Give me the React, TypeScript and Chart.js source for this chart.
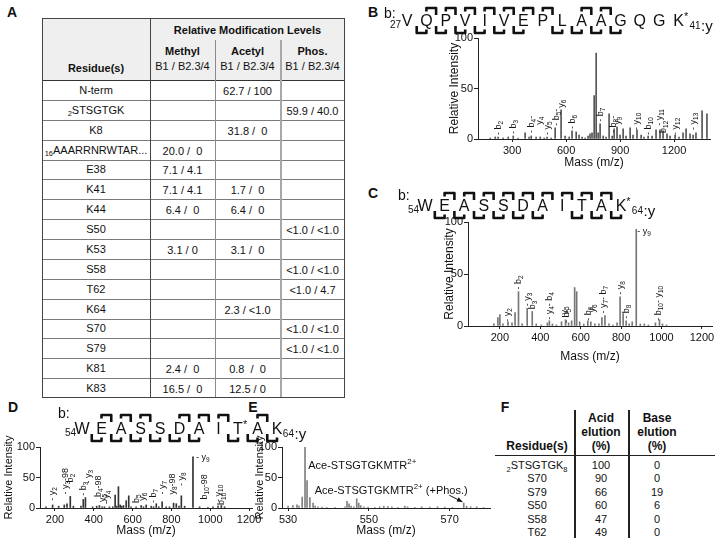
import React, { useEffect, useRef } from "react";
import { Chart, registerables } from "chart.js";

Chart.register(...registerables);

const FONT = "'Liberation Sans', Arial, Helvetica, sans-serif";

// ---------------- Panel A table ----------------
const residuesA = ["N-term", "_{2}STSGTGK", "K8", "_{16}AAARRNRWTAR...", "E38", "K41", "K44", "S50", "K53", "S58", "T62", "K64", "S70", "S79", "K81", "K83"];
const methylA = ["", "", "", "20.0 /  0", "7.1 / 4.1", "7.1 / 4.1", "6.4 /  0", "", "3.1 / 0", "", "", "", "", "", "2.4 /  0", "16.5 /  0"];
const acetylA = ["62.7 / 100", "", "31.8 /  0", "", "", "1.7 /  0", "6.4 /  0", "", "3.1 /  0", "", "", "2.3 / <1.0", "", "", "0.8  /  0", "12.5 / 0"];
const phosA = ["", "59.9 / 40.0", "", "", "", "", "", "<1.0 / <1.0", "", "<1.0 / <1.0", "<1.0 / 4.7", "", "<1.0 / <1.0", "<1.0 / <1.0", "", ""];
const modTypesA = ["Methyl", "Acetyl", "Phos."];
const batchLabelA = "B1 / B2.3/4";

// ---------------- Panel F table ----------------
const residuesF = ["_{2}STSGTGK_{8}", "S70", "S79", "S50", "S58", "T62"];
const acidF = [100, 90, 66, 60, 47, 49];
const baseF = [0, 0, 19, 6, 0, 0];

// ---------------- shared axis ticks ----------------
const yTicks = [0, 50, 100];

// ---------------- Panel B spectrum ----------------
const ticksB = [300, 600, 900, 1200];
const mzB = [178,206,222,250,278,306,333,372,394,406,433,456,478,494,517,539,572,594,617,633,656,672,689,706,722,733,744,756,767,778,789,806,822,839,856,867,883,900,917,933,956,972,994,1017,1033,1056,1078,1100,1122,1139,1161,1178,1206,1228,1250,1267,1289,1306,1322,1356,1383];
const intB = [1,2,2,1,2,3,1,6,2,3,2,2,1,2,1,11,29,3,2,8,7,4,2,1,3,5,6,43,85,6,15,3,2,25,3,10,12,4,10,3,11,4,9,4,2,3,3,9,9,8,5,3,4,2,6,10,5,4,6,28,25];
const labMzB = [222, 306, 405, 452, 494, 545, 572, 633, 789, 862, 885, 994, 1056, 1122, 1139, 1206, 1306];
const labAtB = [4, 5, 6, 14, 4, 13, 31, 10, 17, 6, 14, 9, 4, 13, 6, 4, 9];
const labTxtB = ["- b_{2}", "- b_{3}", "- b_{4}-", "y_{4}", "- y_{5}", "- b_{5}-", "y_{6}", "- b_{6}", "- b_{7}", "- b_{8}-", "y_{9}", "- y_{10}", "- b_{10}", "- y_{11}", "b_{12}", "- y_{12}", "- y_{13}"];
const seqB = ["V", "Q", "P", "V", "I", "V", "E", "P", "L", "A", "A", "G", "Q", "G", "K*"];
const seqStartB = "27";
const seqEndB = "41";
const bIonsB = [2, 3, 4, 5, 6, 7, 8, 10, 11];
const yIonsB = [1, 2, 3, 4, 5, 6, 8, 9, 10, 11];

// ---------------- Panel C spectrum ----------------
const ticksC = [200, 400, 600, 800, 1000, 1200];
const mzC = [170,190,200,215,240,260,275,292,310,335,360,380,405,435,445,460,480,505,525,540,555,570,580,595,615,635,650,670,690,705,720,740,760,780,795,810,825,840,855,875,895,915,935,970,990,1005,1025];
const intC = [2,8,11,2,4,3,13,33,2,17,14,2,1,3,5,2,1,4,6,3,5,37,33,4,2,5,4,2,2,8,10,2,1,3,28,12,5,2,4,93,2,2,1,3,6,2,1];
const labMzC = [240, 292, 335, 362, 445, 520, 532, 640, 656, 712, 797, 828, 985];
const labAtC = [4, 35, 19, 16, 6, 11, 3, 5, 13, 12, 30, 7, 5];
const labTxtC = ["- y_{2}", "- b_{2}", "- y_{3}", "b_{3}", "- y_{4}- b_{4}", "y_{5}", "- b_{5}", "- b_{6}", "y_{6}", "- y_{7}- b_{7}", "- y_{8}", "- b_{8}", "- b_{10}- y_{10}"];
const topLabC = { mz: 880, at: 91, text: "- y_{9}" };
const seqC = ["W", "E", "A", "S", "S", "D", "A", "I", "T", "A", "K*"];
const seqStartC = "54";
const seqEndC = "64";
const bIonsC = [2, 3, 4, 5, 6, 7, 8, 9, 10];
const yIonsC = [1, 2, 3, 4, 5, 6, 8, 9, 10];

// ---------------- Panel D spectrum ----------------
const ticksD = [200, 400, 600, 800, 1000, 1200];
const mzD = [154,188,219,248,262,279,295,334,346,357,394,415,429,443,455,481,498,510,518,527,536,544,553,567,580,592,618,644,656,670,696,708,722,735,752,773,790,811,825,839,851,868,911,945,988,1014,1040,1057,1074];
const intD = [2,5,3,5,7,19,3,3,14,17,2,3,4,2,2,2,2,21,3,35,5,3,4,12,20,2,2,4,2,5,3,2,7,2,10,2,2,8,7,3,20,3,84,2,1,2,3,4,2];
const labMzD = [188, 255, 281, 346, 372, 425, 443, 465, 618, 650, 706, 752, 808, 851, 971, 1040, 1060];
const labAtD = [12, 22, 42, 20, 40, 18, 10, 6, 8, 12, 8, 22, 22, 36, 14, 10, 5];
const labTxtD = ["- y_{2}", "- y_{3}-98", "b_{2}", "- b_{3}", "- y_{3}", "b_{4}-98", "y_{5}", "- y_{4}", "b_{5}", "y_{6}", "- b_{7}", "- y_{7}", "y_{8}-98", "- y_{8}", "b_{10}-98", "- y_{10}", "b_{10}"];
const topLabD = { mz: 926, at: 82, text: "- y_{9}" };
const seqD = ["W", "E", "A", "S", "S", "D", "A", "I", "T*", "A", "K"];
const seqStartD = "54";
const seqEndD = "64";
const bIonsD = [2, 3, 4, 6, 7, 8, 10];
const yIonsD = [1, 2, 3, 4, 5, 6, 8, 9, 10];

// ---------------- Panel E spectrum ----------------
const ticksE = [530, 550, 570];
const mzE = [530.0,531.2,532.2,532.7,533.5,534.2,534.7,535.4,536.2,536.7,537.4,538.4,539.6,541.6,544.1,544.6,545.1,545.6,546.3,547.0,547.5,548.0,548.8,549.8,551.5,552.7,553.7,554.7,555.7,557.2,558.9,559.6,561.4,563.1,565.1,567.0,568.8,570.7,573.5,574.2,575.2,576.7,578.4];
const intE = [3,4,5,3,18,100,45,17,8,3,2,1.5,1,1,2,11,7,3,2,15,8,4,2,1.5,1,2,3,2.5,2,1,3,2,1,2,1.5,2,1.5,1,8,3,2,2,1];
const precursorE = { mz: 535.0, at: 69, text: "Ace-STSGTGKMTR^{2+}" };
const phosLabelE = { mz: 536.6, at: 28, text: "Ace-STSGTGKMTR^{2+} (+Phos.)" };
const phosPeakE = { mz: 573.5, at: 8 };

// ---------------- helpers ----------------
type Seg = { t: string; k: number };
function segs(text: string): Seg[] {
  return text
    .split(/(_\{[^}]*\}|\^\{[^}]*\})/)
    .filter((s) => s.length > 0)
    .map((s) => {
      if (s.startsWith("_{")) return { t: s.slice(2, -1), k: 1 };
      if (s.startsWith("^{")) return { t: s.slice(2, -1), k: 2 };
      return { t: s, k: 0 };
    });
}

function Rich({ t }: { t: string }) {
  return (
    <>
      {segs(t).map((s, i) =>
        s.k === 0 ? (
          <span key={i}>{s.t}</span>
        ) : (
          <span key={i} style={{ fontSize: "0.68em", position: "relative", top: s.k === 1 ? "0.35em" : "-0.45em" }}>{s.t}</span>
        )
      )}
    </>
  );
}

function T({ x, y, s, size = 11, bold = false, align = "center" }: { x: number; y: number; s: string; size?: number; bold?: boolean; align?: string }) {
  const tr = align === "center" ? "translate(-50%,-50%)" : align === "left" ? "translate(0,-50%)" : "translate(-100%,-50%)";
  return (
    <div style={{ position: "absolute", left: x, top: y, transform: tr, fontSize: size, fontWeight: bold ? 700 : 400, whiteSpace: "pre", lineHeight: 1 }}>
      <Rich t={s} />
    </div>
  );
}

function L({ x, y, w, h, c }: { x: number; y: number; w: number; h: number; c: string }) {
  return <div style={{ position: "absolute", left: x, top: y, width: w, height: h, background: c }} />;
}

function drawRich(ctx: CanvasRenderingContext2D, text: string, x: number, y: number, size: number, rot: boolean) {
  ctx.save();
  ctx.translate(x, y);
  if (rot) ctx.rotate(-Math.PI / 2);
  ctx.textBaseline = "middle";
  ctx.textAlign = "left";
  let cx = 0;
  for (const s of segs(text)) {
    const fs = s.k ? size * 0.72 : size;
    ctx.font = `${fs}px ${FONT}`;
    const dy = s.k === 1 ? size * 0.3 : s.k === 2 ? -size * 0.38 : 0;
    ctx.fillText(s.t, cx, dy);
    cx += ctx.measureText(s.t).width;
  }
  ctx.restore();
}

type Seq = {
  letters: string[]; start: string; end: string; top: number[]; bot: number[];
  bx: number; by: number; x0: number; step: number; base: number; topY: number; botY: number; tail: number; size: number;
};

function drawSeq(ctx: CanvasRenderingContext2D, s: Seq, ox: number, oy: number) {
  ctx.save();
  ctx.fillStyle = "#111";
  ctx.textBaseline = "alphabetic";
  ctx.font = `14px ${FONT}`;
  ctx.textAlign = "left";
  ctx.fillText("b:", s.bx - ox, s.by - oy);
  const base = s.base - oy;
  ctx.font = `10px ${FONT}`;
  ctx.textAlign = "right";
  ctx.fillText(s.start, s.x0 - 6 - ox, base + 2);
  let endX = 0;
  s.letters.forEach((Lt, i) => {
    const cx = s.x0 + i * s.step - ox;
    const ch = Lt.replace("*", "");
    ctx.font = `${s.size}px ${FONT}`;
    ctx.textAlign = "center";
    ctx.fillText(ch, cx, base);
    const w = ctx.measureText(ch).width;
    endX = cx + w / 2;
    if (Lt.includes("*")) {
      ctx.font = `11px ${FONT}`;
      ctx.textAlign = "left";
      ctx.fillText("*", cx + w / 2, base - 6);
      endX = cx + w / 2 + 5;
    }
  });
  ctx.font = `10px ${FONT}`;
  ctx.textAlign = "left";
  ctx.fillText(s.end, endX + 0.5, base + 3);
  const ew = ctx.measureText(s.end).width;
  ctx.font = `${s.size - 1}px ${FONT}`;
  ctx.fillText(":y", endX + ew + 1, base + 5);
  ctx.strokeStyle = "#111";
  ctx.lineWidth = 2.6;
  ctx.lineJoin = "round";
  const half = s.step * 0.5;
  s.top.forEach((k) => {
    const xg = s.x0 + (k - 0.5) * s.step - ox;
    const y = s.topY - oy;
    ctx.beginPath();
    ctx.moveTo(xg - half, y + 3.5);
    ctx.lineTo(xg - half, y);
    ctx.lineTo(xg, y);
    ctx.lineTo(xg, y + s.tail);
    ctx.stroke();
  });
  s.bot.forEach((k) => {
    const xg = s.x0 + (k - 0.5) * s.step - ox;
    const y = s.botY - oy;
    ctx.beginPath();
    ctx.moveTo(xg, y - s.tail);
    ctx.lineTo(xg, y);
    ctx.lineTo(xg + half, y);
    ctx.lineTo(xg + half, y - 3.5);
    ctx.stroke();
  });
  ctx.restore();
}

type Lab = { mz: number; at: number; text: string; rot: boolean; size: number };
function makeLabs(mz: number[], at: number[], txt: string[], size: number): Lab[] {
  return mz.map((m, i) => ({ mz: m, at: at[i], text: txt[i], rot: true, size }));
}

type SpecProps = {
  rect: number[];
  plot: number[];
  titleX: number;
  titleY: number;
  titleSize: number;
  mz: number[];
  ints: number[];
  xMin: number;
  xMax: number;
  xTicks: number[];
  color: string;
  labels: Lab[];
  seq?: Seq;
  extra?: (ctx: CanvasRenderingContext2D, xs: any, ys: any) => void;
};

function Spectrum(p: SpecProps) {
  const ref = useRef<HTMLCanvasElement>(null);
  const [cl, ct, cr, cb] = p.rect;
  const [pl, pt, pr, pb] = p.plot;
  useEffect(() => {
    const lh = p.titleSize * 1.2;
    const plugin = {
      id: "annot",
      afterDatasetsDraw(chart: any) {
        const ctx: CanvasRenderingContext2D = chart.ctx;
        const xs = chart.scales.x;
        const ys = chart.scales.y;
        ctx.save();
        ctx.fillStyle = "#111";
        p.labels.forEach((l) => {
          drawRich(ctx, l.text, xs.getPixelForValue(l.mz), ys.getPixelForValue(l.at), l.size, l.rot);
        });
        if (p.seq) drawSeq(ctx, p.seq, cl, ct);
        if (p.extra) p.extra(ctx, xs, ys);
        ctx.restore();
      },
    };
    const chart = new Chart(ref.current as HTMLCanvasElement, {
      type: "bar",
      data: {
        datasets: [
          {
            data: p.mz.map((x, i) => ({ x, y: p.ints[i] })) as any,
            backgroundColor: p.color,
            borderWidth: 0,
            barThickness: 1,
            grouped: false,
          } as any,
        ],
      },
      options: {
        animation: false,
        responsive: false,
        maintainAspectRatio: false,
        devicePixelRatio: 1,
        layout: { padding: { left: 0, top: pt - ct, right: cr - pr, bottom: 0 } },
        plugins: { legend: { display: false }, tooltip: { enabled: false } },
        scales: {
          x: {
            type: "linear",
            min: p.xMin,
            max: p.xMax,
            offset: false,
            grid: { drawOnChartArea: false, drawTicks: true, tickLength: 3, color: "#222", offset: false },
            border: { display: true, color: "#222", width: 1 },
            ticks: {
              autoSkip: false,
              maxRotation: 0,
              padding: 2,
              color: "#111",
              font: { size: 11, family: FONT },
              callback: (v: any) => String(v),
            },
            afterBuildTicks: (s: any) => {
              s.ticks = p.xTicks.map((v) => ({ value: v }));
            },
            title: {
              display: true,
              text: "Mass (m/z)",
              color: "#111",
              font: { size: 12, family: FONT },
              padding: { top: 0, bottom: Math.max(0, cb - lh / 2 - p.titleY) },
            },
            afterFit: (s: any) => {
              s.height = cb - pb;
            },
          },
          y: {
            type: "linear",
            min: 0,
            max: 100,
            grid: { drawOnChartArea: false, drawTicks: true, tickLength: 4, color: "#222" },
            border: { display: true, color: "#222", width: 1 },
            ticks: { padding: 1, color: "#111", font: { size: 11, family: FONT } },
            afterBuildTicks: (s: any) => {
              s.ticks = yTicks.map((v) => ({ value: v }));
            },
            title: {
              display: true,
              text: "Relative Intensity",
              color: "#111",
              font: { size: p.titleSize, family: FONT },
              padding: { top: Math.max(0, p.titleX - lh / 2 - cl), bottom: 0 },
            },
            afterFit: (s: any) => {
              s.width = pl - cl;
            },
          },
        },
      } as any,
      plugins: [plugin],
    });
    return () => chart.destroy();
  }, []);
  return (
    <canvas
      ref={ref}
      width={cr - cl}
      height={cb - ct}
      style={{ position: "absolute", left: cl, top: ct, width: cr - cl, height: cb - ct }}
    />
  );
}

// ---------------- table components ----------------
function TableA() {
  const left = 42, top = 18, right = 345, bottom = 398, hb = 80;
  const cols = [42, 150, 215, 280, 345];
  const rh = (bottom - hb) / residuesA.length;
  const cx = (i: number) => (cols[i] + cols[i + 1]) / 2;
  const els: any[] = [];
  els.push(<L key="hbg" x={left} y={top} w={right - left} h={hb - top} c="#efefef" />);
  for (let i = 1; i < residuesA.length; i++) {
    els.push(<L key={"r" + i} x={left} y={Math.round(hb + i * rh)} w={right - left} h={1} c="#7a7a7a" />);
  }
  els.push(<L key="hl" x={left} y={hb} w={right - left} h={1} c="#333" />);
  els.push(<L key="v1" x={150} y={top} w={1} h={bottom - top} c="#444" />);
  els.push(<L key="v2" x={215} y={40} w={1} h={bottom - 40} c="#8a8a8a" />);
  els.push(<L key="v3" x={280} y={40} w={2} h={bottom - 40} c="#a8a8a8" />);
  els.push(
    <div key="border" style={{ position: "absolute", left, top, width: right - left, height: bottom - top, border: "1px solid #444", boxSizing: "border-box" }} />
  );
  els.push(<T key="rml" x={(150 + 345) / 2} y={30} s="Relative Modification Levels" bold />);
  modTypesA.forEach((m, i) => {
    els.push(<T key={"m" + i} x={cx(i + 1)} y={51} s={m} bold />);
    els.push(<T key={"b" + i} x={cx(i + 1)} y={66} s={batchLabelA} />);
  });
  els.push(<T key="res" x={cx(0)} y={68} s="Residue(s)" bold />);
  residuesA.forEach((r, i) => {
    const y = hb + (i + 0.5) * rh;
    els.push(<T key={"ra" + i} x={cx(0)} y={y} s={r} />);
    if (methylA[i]) els.push(<T key={"me" + i} x={cx(1)} y={y + 1} s={methylA[i]} />);
    if (acetylA[i]) els.push(<T key={"ac" + i} x={cx(2)} y={y + 1} s={acetylA[i]} />);
    if (phosA[i]) els.push(<T key={"ph" + i} x={cx(3)} y={y + 1} s={phosA[i]} />);
  });
  return <>{els}</>;
}

function TableF() {
  const els: any[] = [];
  els.push(<L key="v1" x={574} y={410} w={1.5} h={128} c="#222" />);
  els.push(<L key="v2" x={628} y={410} w={1.5} h={128} c="#222" />);
  els.push(<L key="h" x={495} y={455} w={220} h={1} c="#222" />);
  const hdr = [
    ["Acid", "elution", "(%)"],
    ["Base", "elution", "(%)"],
  ];
  hdr.forEach((h, j) => {
    const x = j === 0 ? 601 : 657;
    h.forEach((s, k) => els.push(<T key={"h" + j + k} x={x} y={418 + k * 14} s={s} size={12} bold />));
  });
  els.push(<T key="res" x={537} y={446} s="Residue(s)" size={12} bold />);
  residuesF.forEach((r, i) => {
    const y = 465 + i * 13.4;
    els.push(<T key={"r" + i} x={537} y={y} s={r} size={11} />);
    els.push(<T key={"a" + i} x={601} y={y} s={String(acidF[i])} size={11} />);
    els.push(<T key={"b" + i} x={657} y={y} s={String(baseF[i])} size={11} />);
  });
  return <>{els}</>;
}

export default function App() {
  const labsB = makeLabs(labMzB, labAtB, labTxtB, 9);
  const labsC = [...makeLabs(labMzC, labAtC, labTxtC, 9), { ...topLabC, rot: false, size: 9 }];
  const labsD = [...makeLabs(labMzD, labAtD, labTxtD, 9), { ...topLabD, rot: false, size: 9 }];
  const labsE: Lab[] = [
    { ...precursorE, rot: false, size: 11 },
    { ...phosLabelE, rot: false, size: 11 },
  ];
  const seqBcfg: Seq = { letters: seqB, start: seqStartB, end: seqEndB, top: bIonsB, bot: yIonsB, bx: 384, by: 18, x0: 407, step: 19.4, base: 26, topY: 8, botY: 33, tail: 7, size: 16 };
  const seqCcfg: Seq = { letters: seqC, start: seqStartC, end: seqEndC, top: bIonsC, bot: yIonsC, bx: 398, by: 200, x0: 425, step: 19.6, base: 211, topY: 193, botY: 218, tail: 7, size: 16 };
  const seqDcfg: Seq = { letters: seqD, start: seqStartD, end: seqEndD, top: bIonsD, bot: yIonsD, bx: 58, by: 418, x0: 82, step: 19.5, base: 434, topY: 415, botY: 441, tail: 7, size: 16 };
  const arrowE = (ctx: CanvasRenderingContext2D, xs: any, ys: any) => {
    const x1 = xs.getPixelForValue(phosPeakE.mz - 3.6);
    const y1 = ys.getPixelForValue(phosPeakE.at + 13);
    const x2 = xs.getPixelForValue(phosPeakE.mz - 0.3);
    const y2 = ys.getPixelForValue(phosPeakE.at + 2);
    ctx.save();
    ctx.strokeStyle = "#111";
    ctx.fillStyle = "#111";
    ctx.lineWidth = 1;
    ctx.beginPath();
    ctx.moveTo(x1, y1);
    ctx.lineTo(x2, y2);
    ctx.stroke();
    const a = Math.atan2(y2 - y1, x2 - x1);
    ctx.beginPath();
    ctx.moveTo(x2, y2);
    ctx.lineTo(x2 - 6 * Math.cos(a - 0.4), y2 - 6 * Math.sin(a - 0.4));
    ctx.lineTo(x2 - 6 * Math.cos(a + 0.4), y2 - 6 * Math.sin(a + 0.4));
    ctx.closePath();
    ctx.fill();
    ctx.restore();
  };
  return (
    <div style={{ position: "absolute", left: 0, top: 0, width: 720, height: 538, background: "#fff", overflow: "hidden", fontFamily: FONT, color: "#111" }}>
      <T x={12} y={12} s="A" size={14} bold />
      <T x={373} y={12} s="B" size={14} bold />
      <T x={373} y={193} s="C" size={14} bold />
      <T x={13} y={407} s="D" size={14} bold />
      <T x={253} y={407} s="E" size={14} bold />
      <T x={505} y={407} s="F" size={14} bold />
      <TableA />
      <TableF />
      <Spectrum rect={[370, 0, 720, 172]} plot={[478, 38, 710, 139]} titleX={455} titleY={163} titleSize={12} mz={mzB} ints={intB} xMin={110} xMax={1400} xTicks={ticksB} color="#555" labels={labsB} seq={seqBcfg} />
      <Spectrum rect={[370, 184, 720, 366]} plot={[468, 222, 712, 326]} titleX={450} titleY={357} titleSize={12} mz={mzC} ints={intC} xMin={42} xMax={1250} xTicks={ticksC} color="#777" labels={labsC} seq={seqCcfg} />
      <Spectrum rect={[0, 400, 320, 538]} plot={[40, 447, 252, 508]} titleX={9} titleY={532} titleSize={11} mz={mzD} ints={intD} xMin={123} xMax={1215} xTicks={ticksD} color="#333" labels={labsD} seq={seqDcfg} />
      <Spectrum rect={[250, 400, 500, 538]} plot={[282, 447, 490, 508]} titleX={260} titleY={532} titleSize={11} mz={mzE} ints={intE} xMin={528.5} xMax={580} xTicks={ticksE} color="#808080" labels={labsE} extra={arrowE} />
    </div>
  );
}
